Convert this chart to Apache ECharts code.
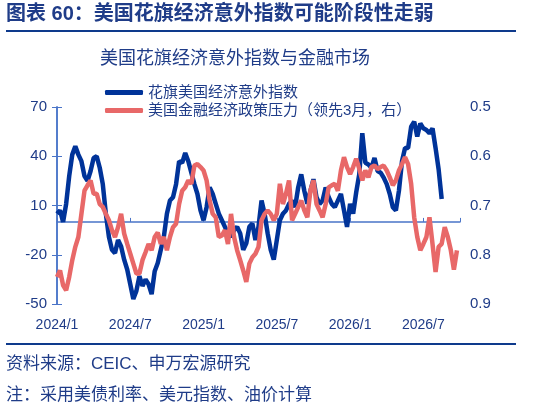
<!DOCTYPE html>
<html>
<head>
<meta charset="utf-8">
<script src="https://cdn.jsdelivr.net/npm/echarts@6/dist/echarts.min.js"></script>
<style>
  html, body { margin: 0; padding: 0; background: #fff; }
  #chart { width: 544px; height: 411px; }
</style>
</head>
<body>
<div id="chart"></div>
<script>
// x 轴：以月为单位，从 2024/1 开始，每 0.25 个月一个点
const step = 0.25;
const xLabels = ["2024/1", "2024/7", "2025/1", "2025/7", "2026/1", "2026/7"];

// 花旗美国经济意外指数（左轴）
const citiSurprise = [
  5, 7, 0, 11, 28, 41, 46, 41, 37, 28, 25, 31, 39, 40, 33, 23,
  5, -9, -17, -19, -11, -15, -23, -29, -38, -47, -42, -33, -39, -35, -38, -44,
  -30, -25, -17, -9, 5, 13, 15, 23, 37, 36, 42, 37, 30, 23, 17, 7,
  1, 9, 21, 17, 11, 5, 1, -3, -7, -9, -5, -3, -7, -17, -13, -3,
  -1, -11, -3, 13, 5, -7, -17, -23, -11, 1, 5, 7, 11, 13, 9, 21,
  29, 19, 11, 19, 26, 15, 11, 13, 21, 15, 11, 9, 13, 17, 7, -3,
  11, 5, 18, 29, 54, 36, 35, 33, 39, 31, 30, 27, 23, 17, 9, 7,
  19, 37, 45, 45, 58, 61, 52, 60, 57, 56, 54, 57, 45, 32, 14
];

// 美国金融经济政策压力（领先3月，右轴，逆序）
const policyPressure = [
  0.845, 0.832, 0.862, 0.872, 0.845, 0.811, 0.784, 0.764, 0.717, 0.670, 0.659, 0.649, 0.676, 0.676, 0.697, 0.703,
  0.717, 0.730, 0.750, 0.764, 0.744, 0.717, 0.757, 0.778, 0.798, 0.818, 0.838, 0.838, 0.811, 0.795, 0.778, 0.791,
  0.764, 0.755, 0.778, 0.764, 0.791, 0.764, 0.744, 0.737, 0.697, 0.670, 0.663, 0.649, 0.656, 0.619, 0.616, 0.622,
  0.629, 0.649, 0.690, 0.717, 0.724, 0.764, 0.761, 0.750, 0.778, 0.717, 0.764, 0.791, 0.811, 0.832, 0.855, 0.818,
  0.805, 0.798, 0.784, 0.730, 0.717, 0.710, 0.717, 0.730, 0.717, 0.656, 0.697, 0.676, 0.649, 0.730, 0.717, 0.703,
  0.690, 0.710, 0.724, 0.670, 0.649, 0.697, 0.710, 0.724, 0.697, 0.663, 0.659, 0.656, 0.670, 0.629, 0.602, 0.622,
  0.636, 0.622, 0.605, 0.625, 0.649, 0.629, 0.643, 0.622, 0.619, 0.626, 0.622, 0.619, 0.629, 0.643, 0.659, 0.649,
  0.629, 0.616, 0.602, 0.616, 0.656, 0.724, 0.764, 0.791, 0.778, 0.764, 0.724, 0.778, 0.835, 0.784, 0.778, 0.744,
  0.764, 0.791, 0.830, 0.791
];

const navy = "#1f3c88";
const axisBlue = "#4a74c8";
const font = "'Liberation Sans', 'Noto Sans CJK SC', sans-serif";

const toPairs = (arr) => arr.map((v, i) => [i * step, v]);

const chart = echarts.init(document.getElementById("chart"));

chart.setOption({
  animation: false,
  textStyle: { fontFamily: font },
  graphic: [
    {
      type: "text", left: 6, top: 4,
      style: { text: "图表 60：美国花旗经济意外指数可能阶段性走弱", font: "bold 20px " + font, fill: navy }
    },
    {
      type: "line", shape: { x1: 6, y1: 31, x2: 516, y2: 31 },
      style: { stroke: "#0e3a8c", lineWidth: 2 }
    },
    {
      type: "text", left: 100, top: 50,
      style: { text: "美国花旗经济意外指数与金融市场", font: "18px " + font, fill: navy }
    },
    {
      type: "line", shape: { x1: 6, y1: 344, x2: 516, y2: 344 },
      style: { stroke: "#0e3a8c", lineWidth: 2 }
    },
    {
      type: "text", left: 6, top: 356,
      style: { text: "资料来源：CEIC、申万宏源研究", font: "17px " + font, fill: navy }
    },
    {
      type: "text", left: 6, top: 387,
      style: { text: "注：采用美债利率、美元指数、油价计算", font: "17px " + font, fill: navy }
    }
  ],
  legend: {
    orient: "vertical",
    left: 100,
    top: 80,
    itemGap: 3,
    itemWidth: 38,
    itemHeight: 5,
    icon: "roundRect",
    textStyle: { color: navy, fontSize: 15, fontFamily: font },
    data: ["花旗美国经济意外指数", "美国金融经济政策压力（领先3月，右）"]
  },
  grid: { left: 57, right: 84, top: 107, bottom: 107 },
  xAxis: [
    {
      type: "value",
      position: "bottom",
      min: 0, max: 33, interval: 6,
      axisLine: { show: false, onZero: false },
      axisTick: { show: false },
      splitLine: { show: false },
      axisLabel: {
        color: navy, fontSize: 14, margin: 14,
        formatter: (v) => xLabels[Math.round(v / 6)] || ""
      }
    },
    {
      type: "value",
      position: "top",
      min: 0, max: 33, interval: 6,
      axisLine: { show: true, onZero: true, onZeroAxisIndex: 0, lineStyle: { color: axisBlue, width: 1.5 } },
      axisTick: { show: true, length: 4, lineStyle: { color: axisBlue } },
      splitLine: { show: false },
      axisLabel: { show: false }
    }
  ],
  yAxis: [
    {
      type: "value",
      min: -50, max: 70, interval: 30,
      axisLine: { show: true, lineStyle: { color: axisBlue, width: 1.5 } },
      axisTick: { show: true, length: 5, lineStyle: { color: axisBlue } },
      splitLine: { show: false },
      axisLabel: { color: navy, fontSize: 15, margin: 10 }
    },
    {
      type: "value",
      min: 0.5, max: 0.9, interval: 0.1,
      inverse: true,
      position: "right",
      axisLine: { show: true, lineStyle: { color: axisBlue, width: 1.5 } },
      axisTick: { show: true, length: 5, lineStyle: { color: axisBlue } },
      splitLine: { show: false },
      axisLabel: { color: navy, fontSize: 15, margin: 10, formatter: (v) => v.toFixed(1) }
    }
  ],
  series: [
    {
      name: "花旗美国经济意外指数",
      type: "line",
      xAxisIndex: 0,
      yAxisIndex: 0,
      data: toPairs(citiSurprise),
      showSymbol: false,
      color: "#003399",
      lineStyle: { width: 4.5, color: "#003399" }
    },
    {
      name: "美国金融经济政策压力（领先3月，右）",
      type: "line",
      xAxisIndex: 0,
      yAxisIndex: 1,
      data: toPairs(policyPressure),
      showSymbol: false,
      color: "#e86868",
      lineStyle: { width: 4.5, color: "#e86868" }
    }
  ]
});
</script>
</body>
</html>
